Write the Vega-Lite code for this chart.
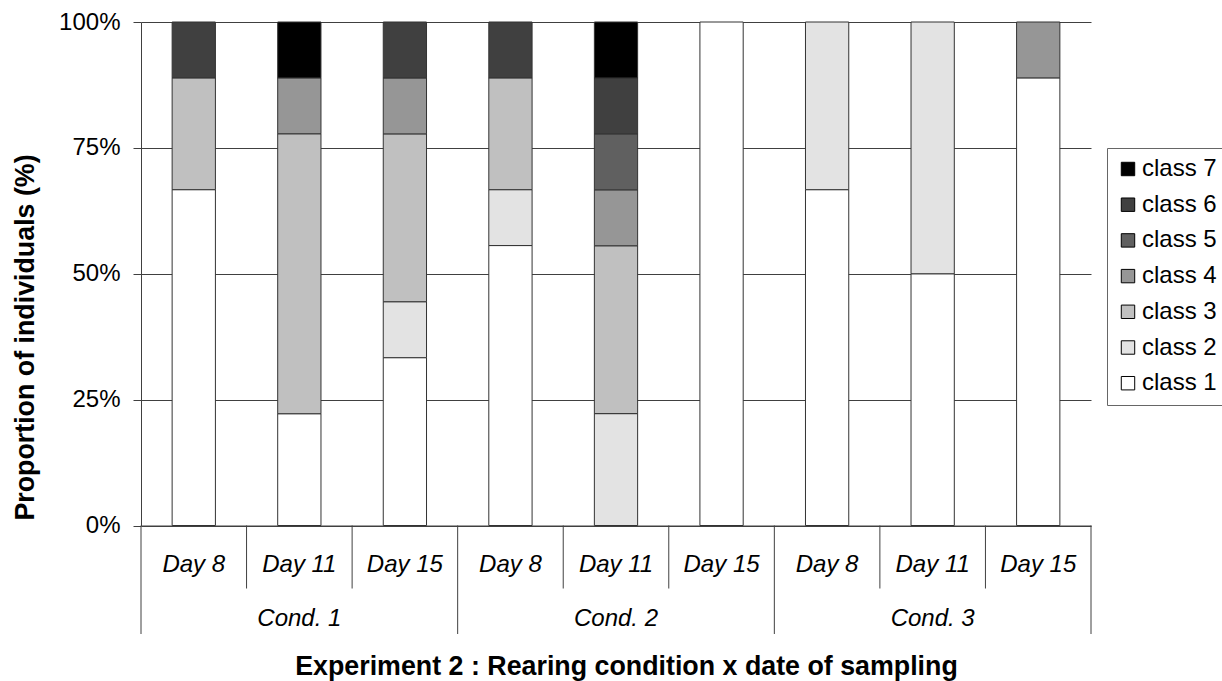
{
  "$schema": "https://vega.github.io/schema/vega-lite/v6.json",
  "width": 950,
  "height": 503.5,
  "autosize": {"type": "none"},
  "padding": {"left": 141, "top": 22, "right": 131, "bottom": 155.5},
  "background": "white",
  "config": {
    "view": {"stroke": null},
    "font": "Liberation Sans",
    "axis": {"labelFont": "Liberation Sans", "titleFont": "Liberation Sans"},
    "legend": {"labelFont": "Liberation Sans"}
  },
  "datasets": {
    "props": [
      {"cond": "Cond. 1", "day": "Day 8", "key": "Cond. 1|Day 8", "class": "class 1", "pct": 66.7},
      {"cond": "Cond. 1", "day": "Day 8", "key": "Cond. 1|Day 8", "class": "class 3", "pct": 22.2},
      {"cond": "Cond. 1", "day": "Day 8", "key": "Cond. 1|Day 8", "class": "class 6", "pct": 11.1},
      {"cond": "Cond. 1", "day": "Day 11", "key": "Cond. 1|Day 11", "class": "class 1", "pct": 22.2},
      {"cond": "Cond. 1", "day": "Day 11", "key": "Cond. 1|Day 11", "class": "class 3", "pct": 55.6},
      {"cond": "Cond. 1", "day": "Day 11", "key": "Cond. 1|Day 11", "class": "class 4", "pct": 11.1},
      {"cond": "Cond. 1", "day": "Day 11", "key": "Cond. 1|Day 11", "class": "class 7", "pct": 11.1},
      {"cond": "Cond. 1", "day": "Day 15", "key": "Cond. 1|Day 15", "class": "class 1", "pct": 33.3},
      {"cond": "Cond. 1", "day": "Day 15", "key": "Cond. 1|Day 15", "class": "class 2", "pct": 11.1},
      {"cond": "Cond. 1", "day": "Day 15", "key": "Cond. 1|Day 15", "class": "class 3", "pct": 33.3},
      {"cond": "Cond. 1", "day": "Day 15", "key": "Cond. 1|Day 15", "class": "class 4", "pct": 11.1},
      {"cond": "Cond. 1", "day": "Day 15", "key": "Cond. 1|Day 15", "class": "class 6", "pct": 11.1},
      {"cond": "Cond. 2", "day": "Day 8", "key": "Cond. 2|Day 8", "class": "class 1", "pct": 55.6},
      {"cond": "Cond. 2", "day": "Day 8", "key": "Cond. 2|Day 8", "class": "class 2", "pct": 11.1},
      {"cond": "Cond. 2", "day": "Day 8", "key": "Cond. 2|Day 8", "class": "class 3", "pct": 22.2},
      {"cond": "Cond. 2", "day": "Day 8", "key": "Cond. 2|Day 8", "class": "class 6", "pct": 11.1},
      {"cond": "Cond. 2", "day": "Day 11", "key": "Cond. 2|Day 11", "class": "class 2", "pct": 22.2},
      {"cond": "Cond. 2", "day": "Day 11", "key": "Cond. 2|Day 11", "class": "class 3", "pct": 33.3},
      {"cond": "Cond. 2", "day": "Day 11", "key": "Cond. 2|Day 11", "class": "class 4", "pct": 11.1},
      {"cond": "Cond. 2", "day": "Day 11", "key": "Cond. 2|Day 11", "class": "class 5", "pct": 11.1},
      {"cond": "Cond. 2", "day": "Day 11", "key": "Cond. 2|Day 11", "class": "class 6", "pct": 11.1},
      {"cond": "Cond. 2", "day": "Day 11", "key": "Cond. 2|Day 11", "class": "class 7", "pct": 11.1},
      {"cond": "Cond. 2", "day": "Day 15", "key": "Cond. 2|Day 15", "class": "class 1", "pct": 100},
      {"cond": "Cond. 3", "day": "Day 8", "key": "Cond. 3|Day 8", "class": "class 1", "pct": 66.7},
      {"cond": "Cond. 3", "day": "Day 8", "key": "Cond. 3|Day 8", "class": "class 2", "pct": 33.3},
      {"cond": "Cond. 3", "day": "Day 11", "key": "Cond. 3|Day 11", "class": "class 1", "pct": 50},
      {"cond": "Cond. 3", "day": "Day 11", "key": "Cond. 3|Day 11", "class": "class 2", "pct": 50},
      {"cond": "Cond. 3", "day": "Day 15", "key": "Cond. 3|Day 15", "class": "class 1", "pct": 88.9},
      {"cond": "Cond. 3", "day": "Day 15", "key": "Cond. 3|Day 15", "class": "class 4", "pct": 11.1}
    ],
    "cats": [
      {"cond": "Cond. 1", "day": "Day 8", "key": "Cond. 1|Day 8"},
      {"cond": "Cond. 1", "day": "Day 11", "key": "Cond. 1|Day 11"},
      {"cond": "Cond. 1", "day": "Day 15", "key": "Cond. 1|Day 15"},
      {"cond": "Cond. 2", "day": "Day 8", "key": "Cond. 2|Day 8"},
      {"cond": "Cond. 2", "day": "Day 11", "key": "Cond. 2|Day 11"},
      {"cond": "Cond. 2", "day": "Day 15", "key": "Cond. 2|Day 15"},
      {"cond": "Cond. 3", "day": "Day 8", "key": "Cond. 3|Day 8"},
      {"cond": "Cond. 3", "day": "Day 11", "key": "Cond. 3|Day 11"},
      {"cond": "Cond. 3", "day": "Day 15", "key": "Cond. 3|Day 15"}
    ]
  },
  "layer": [
    {
      "data": {"name": "props"},
      "mark": {"type": "bar", "width": {"band": 0.41}, "stroke": "#333333", "strokeWidth": 1},
      "encoding": {
        "x": {
          "field": "key",
          "type": "nominal",
          "scale": {
            "domain": ["Cond. 1|Day 8", "Cond. 1|Day 11", "Cond. 1|Day 15", "Cond. 2|Day 8", "Cond. 2|Day 11", "Cond. 2|Day 15", "Cond. 3|Day 8", "Cond. 3|Day 11", "Cond. 3|Day 15"],
            "paddingInner": 0,
            "paddingOuter": 0
          },
          "axis": {
            "title": "Experiment 2 : Rearing condition x date of sampling",
            "labelExpr": "split(datum.label, '|')[1]",
            "labelFontStyle": "italic",
            "labelFontSize": 24,
            "labelColor": "black",
            "labelAngle": 0,
            "labelBaseline": "alphabetic",
            "labelPadding": 46,
            "labelOverlap": false,
            "ticks": false,
            "tickSize": 0,
            "domainColor": "#404040",
            "titleFontSize": 26.8,
            "titleFontWeight": "bold",
            "titleColor": "black",
            "titleX": 485,
            "titleY": 148.5,
            "titleAlign": "center",
            "titleAnchor": null,
            "titleBaseline": "alphabetic"
          }
        },
        "y": {
          "field": "pct",
          "type": "quantitative",
          "stack": "normalize",
          "scale": {"domain": [0, 1]},
          "axis": {
            "values": [0, 0.25, 0.5, 0.75, 1],
            "format": ".0%",
            "grid": true,
            "gridColor": "#404040",
            "gridWidth": 1,
            "domainColor": "#404040",
            "tickColor": "#404040",
            "tickSize": 8,
            "labelPadding": 13,
            "labelFontSize": 24,
            "labelColor": "black",
            "title": "Proportion of individuals (%)",
            "titleFontSize": 26.8,
            "titleFontWeight": "bold",
            "titleColor": "black",
            "titleAngle": -90,
            "titleX": -108,
            "titleY": 315,
            "titleAlign": "center",
            "titleBaseline": "alphabetic"
          }
        },
        "color": {
          "field": "class",
          "type": "nominal",
          "scale": {
            "domain": ["class 7", "class 6", "class 5", "class 4", "class 3", "class 2", "class 1"],
            "range": ["#000000", "#404040", "#606060", "#969696", "#c0c0c0", "#e3e3e3", "#ffffff"]
          },
          "legend": {
            "title": null,
            "orient": "none",
            "legendX": 966,
            "legendY": 126,
            "symbolType": "square",
            "symbolSize": 180,
            "symbolStrokeColor": "black",
            "symbolStrokeWidth": 1,
            "symbolOpacity": 1,
            "labelFontSize": 24,
            "labelColor": "black",
            "labelOffset": 2,
            "rowPadding": 11.7,
            "padding": 9,
            "strokeColor": "#666666",
            "fillColor": "white"
          }
        },
        "order": {"field": "class", "sort": "ascending"}
      }
    },
    {
      "data": {"name": "cats"},
      "transform": [{"filter": "datum.day != 'Day 8'"}],
      "mark": {"type": "rule", "color": "#404040", "strokeWidth": 1, "y2Offset": 63},
      "encoding": {
        "x": {"field": "key", "type": "nominal", "bandPosition": 0},
        "y": {"datum": 0},
        "y2": {"datum": 0}
      }
    },
    {
      "data": {"name": "cats"},
      "transform": [{"filter": "datum.day == 'Day 8'"}],
      "mark": {"type": "rule", "color": "#404040", "strokeWidth": 1, "y2Offset": 108.5},
      "encoding": {
        "x": {"field": "key", "type": "nominal", "bandPosition": 0},
        "y": {"datum": 0},
        "y2": {"datum": 0}
      }
    },
    {
      "data": {"name": "cats"},
      "transform": [{"filter": "datum.key == 'Cond. 3|Day 15'"}],
      "mark": {"type": "rule", "color": "#404040", "strokeWidth": 1, "y2Offset": 108.5},
      "encoding": {
        "x": {"field": "key", "type": "nominal", "bandPosition": 1},
        "y": {"datum": 0},
        "y2": {"datum": 0}
      }
    },
    {
      "data": {"name": "cats"},
      "transform": [{"filter": "datum.day == 'Day 11'"}],
      "mark": {"type": "text", "fontSize": 24, "fontStyle": "italic", "color": "black", "baseline": "alphabetic", "align": "center", "dy": 100},
      "encoding": {
        "x": {"field": "key", "type": "nominal"},
        "y": {"datum": 0},
        "text": {"field": "cond"}
      }
    }
  ]
}
